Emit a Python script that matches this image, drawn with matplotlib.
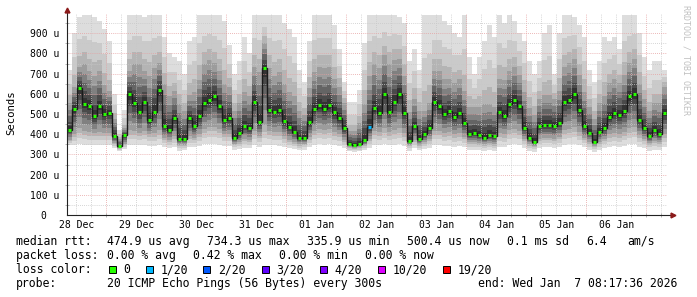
import numpy as np
import matplotlib.pyplot as plt
from matplotlib.patches import Rectangle

plt.rcParams['font.family'] = ['DejaVu Sans Mono']

# 2-hour steps, from 28 Dec 08:17:36 to 07 Jan 08:17:36 (values in microseconds)
median = [420, 525, 630, 550, 540, 488, 538, 500, 505, 392,
          342, 395, 598, 555, 510, 560, 468, 512, 620, 440,
          420, 480, 375, 375, 480, 440, 490, 555, 570, 590,
          540, 470, 480, 380, 405, 440, 430, 560, 460, 730,
          520, 510, 520, 465, 435, 410, 380, 380, 460, 525,
          545, 525, 545, 508, 480, 430, 350, 345, 350, 372,
          435, 530, 505, 600, 510, 560, 600, 505, 365, 440,
          375, 400, 430, 560, 540, 500, 515, 485, 505, 455,
          400, 405, 395, 380, 395, 390, 510, 490, 550, 570,
          540, 430, 380, 360, 440, 445, 445, 440, 455, 560,
          570, 600, 520, 440, 408, 360, 410, 430, 485, 505,
          495, 515, 590, 600, 470, 430, 390, 420, 400, 505]

ping_min = [345, 345, 350, 348, 345, 345, 345, 345, 345, 330,
            318, 325, 345, 348, 345, 345, 340, 342, 345, 335,
            330, 335, 318, 320, 335, 335, 340, 350, 352, 350,
            348, 340, 340, 322, 325, 330, 330, 345, 335, 345,
            345, 345, 342, 335, 330, 325, 320, 322, 335, 345,
            350, 348, 350, 345, 340, 330, 315, 312, 315, 320,
            330, 345, 345, 350, 345, 348, 350, 340, 318, 330,
            320, 325, 332, 345, 345, 340, 342, 338, 340, 335,
            322, 322, 320, 318, 320, 318, 338, 338, 348, 350,
            345, 330, 318, 312, 330, 335, 335, 332, 335, 348,
            350, 352, 345, 335, 322, 312, 322, 330, 338, 340,
            338, 342, 350, 352, 335, 330, 318, 322, 320, 335]

ping_low = [370, 395, 420, 410, 405, 400, 405, 400, 400, 355,
            330, 350, 410, 410, 400, 410, 395, 400, 410, 380,
            370, 385, 345, 345, 385, 380, 395, 420, 430, 430,
            420, 395, 395, 350, 360, 375, 370, 410, 390, 430,
            410, 405, 405, 385, 370, 360, 350, 350, 380, 410,
            420, 415, 420, 405, 395, 370, 335, 330, 335, 345,
            375, 410, 405, 420, 405, 415, 420, 400, 345, 370,
            345, 360, 375, 410, 410, 400, 405, 395, 400, 385,
            360, 360, 355, 350, 355, 350, 400, 395, 415, 420,
            410, 375, 350, 340, 375, 380, 380, 375, 385, 415,
            420, 425, 405, 380, 360, 340, 360, 375, 395, 400,
            395, 405, 420, 425, 390, 375, 355, 365, 360, 395]

ping_high = [560, 640, 740, 760, 720, 700, 720, 650, 620, 480,
             380, 430, 720, 760, 760, 720, 700, 740, 760, 660,
             600, 620, 560, 520, 600, 620, 680, 760, 780, 760,
             720, 660, 640, 520, 560, 620, 600, 740, 720, 860,
             740, 700, 720, 660, 620, 600, 520, 500, 640, 720,
             740, 740, 740, 680, 640, 560, 420, 420, 460, 560,
             700, 760, 740, 800, 760, 780, 780, 700, 520, 580,
             520, 520, 560, 720, 720, 680, 680, 660, 680, 620,
             540, 540, 540, 560, 560, 540, 680, 680, 720, 740,
             700, 620, 540, 500, 580, 600, 600, 580, 620, 740,
             760, 780, 700, 620, 540, 480, 560, 600, 660, 680,
             660, 700, 760, 780, 660, 580, 520, 560, 560, 640]

ping_max = [720, 900, 980, 990, 990, 980, 960, 920, 860, 600,
            420, 520, 990, 990, 990, 980, 990, 990, 990, 880,
            800, 780, 760, 700, 860, 880, 990, 990, 990, 990,
            990, 960, 840, 700, 760, 880, 800, 990, 990, 990,
            990, 990, 990, 950, 920, 880, 720, 660, 860, 990,
            990, 990, 990, 940, 820, 660, 560, 560, 620, 850,
            990, 990, 990, 990, 990, 990, 980, 950, 760, 820,
            720, 990, 990, 990, 990, 960, 940, 900, 880, 990,
            780, 700, 780, 860, 940, 880, 990, 950, 990, 960,
            900, 860, 760, 700, 760, 900, 940, 700, 900, 990,
            990, 980, 940, 880, 720, 660, 760, 880, 860, 880,
            820, 990, 990, 990, 900, 780, 720, 760, 760, 720]

loss_1_of_20 = [60]   # step index with one lost ping

days = ['28 Dec', '29 Dec', '30 Dec', '31 Dec', '01 Jan',
        '02 Jan', '03 Jan', '04 Jan', '05 Jan', '06 Jan']
loss_labels = ['0', '1/20', '2/20', '3/20', '4/20', '10/20', '19/20']
loss_colors = ['#26ff00', '#00b8ff', '#0059ff', '#5e00ff', '#7e00ff', '#dd00ff', '#ff0000']

W, H = 697, 297
fig = plt.figure(figsize=(W / 100, H / 100), dpi=100)
ax = fig.add_axes([67 / W, (H - 215) / H, 600 / W, 202 / H])
ax.set_xlim(0, 240)
ax.set_ylim(0, 1000)
for s in ax.spines.values():
    s.set_visible(False)

med = np.array(median, float)
lo = np.array(ping_min, float)
qlo = np.array(ping_low, float)
qhi = np.array(ping_high, float)
hi = np.array(ping_max, float)
edges = np.arange(0, 2 * len(med) + 1, 2)

# smoke: nested bands, lighter outside, darker near the median
layers = [(0.0, '#dddddd'), (0.45, '#cacaca'), (0.8, '#b4b4b4'), (1.05, '#9c9c9c'),
          (1.3, '#808080'), (1.5, '#646464'), (1.7, '#4a4a4a'), (1.85, '#333333')]
for t, c in layers:
    if t <= 1:
        low = lo + (qlo - lo) * t
        up = hi + (qhi - hi) * t
    else:
        low = qlo + (med - qlo) * (t - 1)
        up = qhi + (med - qhi) * (t - 1)
    ax.stairs(up, edges, baseline=low, fill=True, color=c, lw=0, zorder=1)

# grid
t0 = 3 + 42 / 60 + 24 / 3600   # hours from start to 28 Dec 12:00
six = t0 + 6 * np.arange(40)
for k, h in enumerate(six):
    col = '#e6a0a0' if k % 4 == 2 else '#c8c8c8'
    ax.axvline(h, color=col, lw=0.6, ls=(0, (1, 1.5)), zorder=1.5)
for v in range(50, 1000, 50):
    col = '#e6a0a0' if v % 100 == 0 else '#c8c8c8'
    ax.axhline(v, color=col, lw=0.6, ls=(0, (1, 1.5)), zorder=1.5)

# median line
ax.stairs(med, edges, baseline=None, color='#1a1a1a', lw=1.0, zorder=3)
cols = [loss_colors[1] if i in loss_1_of_20 else loss_colors[0] for i in range(len(med))]
ax.hlines(med, edges[:-1] + 0.5, edges[1:] - 0.5, colors=cols, lw=2.2, zorder=4)

# axes with arrows
ax.plot([0, 242], [0, 0], color='#222222', lw=0.8, clip_on=False, zorder=5)
ax.plot([0, 0], [0, 1012], color='#222222', lw=0.8, clip_on=False, zorder=5)
ax.plot([242.5], [0], marker='>', color='#8b1a1a', ms=3.5, clip_on=False, zorder=6)
ax.plot([0], [1014], marker='^', color='#8b1a1a', ms=3.5, clip_on=False, zorder=6)

ax.set_xticks(t0 + 24 * np.arange(10), labels=days)
ax.set_xticks(six, minor=True)
ax.tick_params(axis='x', which='major', length=0, pad=3.5, labelsize=7)
ax.tick_params(axis='x', which='minor', length=2.5, direction='inout', color='#aaaaaa', width=0.6)
ax.set_yticks(range(0, 1000, 100),
              labels=['0  '] + ['%d u' % v for v in range(100, 1000, 100)])
ax.set_yticks(range(50, 1000, 100), minor=True)
ax.tick_params(axis='y', which='major', length=0, pad=5.8, labelsize=7)
ax.tick_params(axis='y', which='minor', length=2.5, direction='inout', color='#aaaaaa', width=0.6)

fig.text(11 / W, 1 - 113 / H, 'Seconds', rotation=90, ha='center', va='center', fontsize=7.7)
fig.text(686 / W, 1 - 60 / H, 'RRDTOOL / TOBI OETIKER', rotation=270,
         ha='center', va='center', fontsize=6, color='#c0c0c0')

# legend rows
def row(y, items):
    for x, s in items:
        fig.text(x / W, 1 - y / H, s, ha='left', va='center', fontsize=8.3)

row(241.3, [(16, 'median rtt:'), (107.3, '474.9 us avg'), (207.3, '734.3 us max'),
            (307.3, '335.9 us min'), (406.7, '500.4 us now'), (506.7, '0.1 ms sd'),
            (586, '6.4'), (627.3, 'am/s')])
row(255.5, [(16, 'packet loss:'), (107.3, '0.00 % avg'), (193.3, '0.42 % max'),
            (279.3, '0.00 % min'), (365, '0.00 % now')])
row(269.7, [(16, 'loss color:')])
box_x = [109, 145.7, 203.3, 261.7, 320, 378.3, 442.7]
for bx, lab, c in zip(box_x, loss_labels, loss_colors):
    fig.add_artist(Rectangle((bx / W, 1 - 273.3 / H), 7 / W, 7.3 / H, transform=fig.transFigure,
                             facecolor=c, edgecolor='black', lw=0.7))
    fig.text((bx + 14.5) / W, 1 - 269.7 / H, lab, ha='left', va='center', fontsize=8.3)
row(283.5, [(16, 'probe:'), (107.3, '20 ICMP Echo Pings (56 Bytes) every 300s'),
            (478.3, 'end: Wed Jan  7 08:17:36 2026')])

fig.savefig('out.png', dpi=100)
